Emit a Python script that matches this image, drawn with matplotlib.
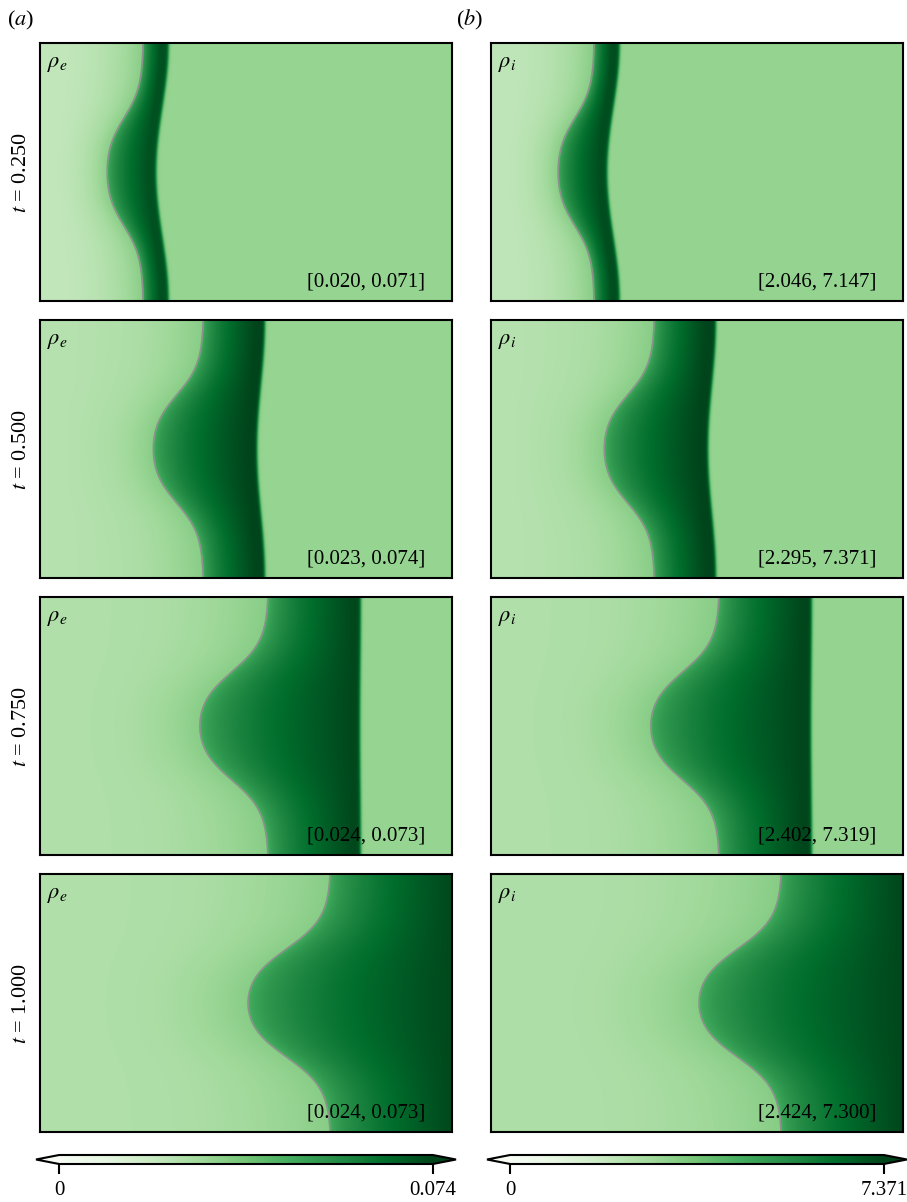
import numpy as np
import matplotlib.pyplot as plt

plt.rcParams['font.family'] = 'serif'
plt.rcParams['font.serif'] = ['Liberation Serif', 'DejaVu Serif']
plt.rcParams['mathtext.fontset'] = 'stix'

times = [0.250, 0.500, 0.750, 1.000]
# interface x (fraction of width) at top/bottom edge and at mid-height
iface_edge = [0.250, 0.396, 0.553, 0.704]
iface_tip = [0.163, 0.275, 0.388, 0.505]
# shock x at top/bottom edge and at mid-height
shock_edge = [0.312, 0.546, 0.779, 1.100]
shock_mid = [0.282, 0.527, 0.777, 1.100]
range_e = [(0.020, 0.071), (0.023, 0.074), (0.024, 0.073), (0.024, 0.073)]
range_i = [(2.046, 7.147), (2.295, 7.371), (2.402, 7.319), (2.424, 7.300)]
# upstream gas, gas just ahead of the interface, gas just behind it
levels_e = [0.030, 0.033, 0.044]
levels_i = [3.00, 3.30, 4.40]
cbar_max = [0.074, 7.371]
names = [r'$\rho_e$', r'$\rho_i$']

nx, ny = 824, 516
x = np.linspace(0, 1, nx)
y = np.linspace(0, 1, ny)
X, Y = np.meshgrid(x, y)


def bump(yy):
    # rounded bulge centred at mid-height, 0 at top and bottom
    f = lambda d: 0.5 * (np.tanh((d + 0.21) / 0.125) - np.tanh((d - 0.21) / 0.125))
    return (f(yy - 0.5) - f(0.5)) / (f(0.0) - f(0.5))


def bow(yy):
    d = np.clip((yy - 0.5) / 0.5, -1, 1)
    return 0.5 * (1 + np.cos(np.pi * d))


def interface(k, yy):
    return iface_edge[k] - (iface_edge[k] - iface_tip[k]) * bump(yy)


def density(k, lo, hi, levels):
    amb, ahead, behind = levels
    xi = interface(k, Y)
    xsh = shock_edge[k] - (shock_edge[k] - shock_mid[k]) * bow(Y)
    left = lo + (ahead - lo) * np.clip(X / xi, 0, 1) ** 3
    xpeak = np.minimum(xsh - 0.02, 1.0)
    frac = np.clip((X - xi) / (xpeak - xi), 0, 1)
    inner = behind + (hi - behind) * frac ** 0.55
    w = 0.5 * (1 + np.tanh((X - xi) / 0.0015))
    gas = left * (1 - w) + inner * w
    s = 0.5 * (1 + np.tanh((X - xsh) / 0.004))
    return gas * (1 - s) + amb * s


W, H = 907, 1202
fig = plt.figure(figsize=(W / 100, H / 100), dpi=100)

col_x = [40, 491]
row_top = [43, 320, 597, 874]
pw, ph = 412, 258

for c in range(2):
    ranges = range_e if c == 0 else range_i
    levels = levels_e if c == 0 else levels_i
    for k in range(4):
        ax = fig.add_axes([col_x[c] / W, (H - row_top[k] - ph) / H, pw / W, ph / H])
        lo, hi = ranges[k]
        im = ax.imshow(density(k, lo, hi, levels), origin='lower', extent=[0, 1, 0, 1],
                       aspect='auto', cmap='Greens', vmin=0, vmax=cbar_max[c],
                       interpolation='bilinear')
        yl = np.linspace(0, 1, 400)
        ax.plot(interface(k, yl), yl, color='#8f8f8f', lw=1.1)
        ax.set_xlim(0, 1)
        ax.set_ylim(0, 1)
        ax.set_xticks([])
        ax.set_yticks([])
        for sp in ax.spines.values():
            sp.set_linewidth(1.5)
        ax.text(0.018, 0.955, names[c], transform=ax.transAxes, fontsize=16,
                ha='left', va='top')
        ax.text(0.935, 0.035, '[{:.3f}, {:.3f}]'.format(lo, hi), transform=ax.transAxes,
                fontsize=15, ha='right', va='bottom')
        if c == 0:
            fig.text(22 / W, 1 - (row_top[k] + ph / 2) / H, r'$t$ = {:.3f}'.format(times[k]),
                     rotation=90, ha='center', va='center', fontsize=16)

    cx0 = [36, 487][c]
    cax = fig.add_axes([cx0 / W, (H - 1164) / H, 420 / W, 9 / H])
    cb = fig.colorbar(im, cax=cax, orientation='horizontal', extend='both',
                      extendfrac=0.062, ticks=[0, cbar_max[c]])
    cb.set_ticklabels(['0', '{:.3f}'.format(cbar_max[c])])
    cb.outline.set_linewidth(1.5)
    cax.tick_params(length=7, width=1.5, labelsize=15, pad=5)

    fig.text([7, 456][c] / W, 1 - 20 / H, r'($a$)' if c == 0 else r'($b$)',
             fontsize=16, ha='left', va='center')

fig.savefig('out.png', dpi=100)
